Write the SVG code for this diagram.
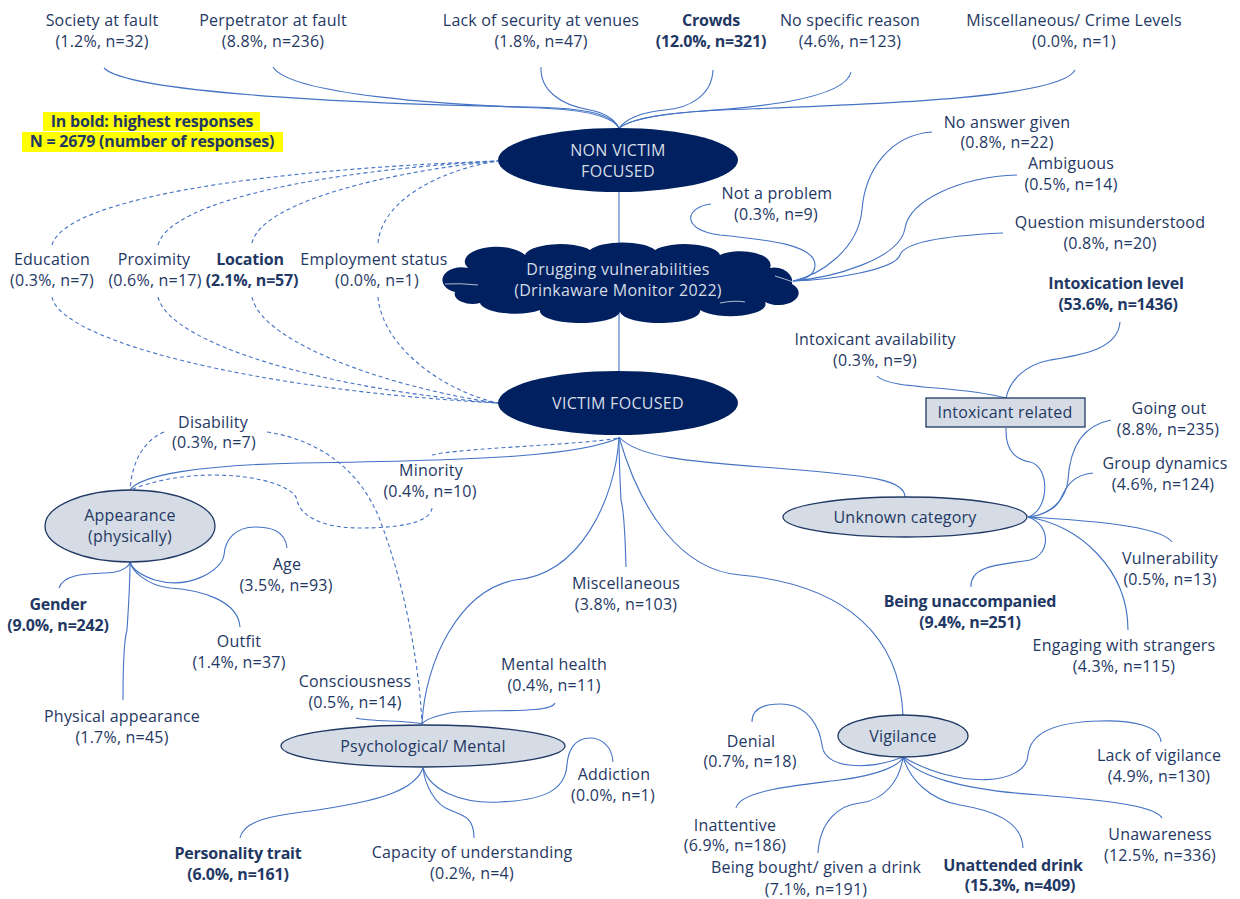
<svg xmlns="http://www.w3.org/2000/svg" width="1240" height="899" viewBox="0 0 1240 899">
<style>
.t{font-family:'Open Sans','Liberation Sans',sans-serif;font-size:16px;letter-spacing:0.2px;fill:#1f3864;text-anchor:middle}
.b{font-weight:bold;letter-spacing:-0.2px}
.w{font-family:'Open Sans','Liberation Sans',sans-serif;font-size:16px;letter-spacing:0.3px;fill:#d6dce5;text-anchor:middle}
.c{fill:none;stroke:#4472c4;stroke-width:1.1}
.d{fill:none;stroke:#4472c4;stroke-width:1.1;stroke-dasharray:4 3}
.dark{fill:#002060}
.light{fill:#d6dce5;stroke:#1f3864;stroke-width:1.3}
</style>
<rect width="1240" height="899" fill="#ffffff"/>

<g id="connectors">
<path class="c" d="M104,68 C130,95 400,105 530,107 C590,108 612,115 619,128"/>
<path class="c" d="M273,67 C290,95 450,105 540,108 C590,110 613,118 619,128"/>
<path class="c" d="M541,67 C540,90 560,105 590,110 C605,113 615,120 619,128"/>
<path class="c" d="M713,70 C712,95 690,108 665,110 C640,112 625,120 619,128"/>
<path class="c" d="M851,72 C845,100 750,108 690,112 C650,115 630,120 619,128"/>
<path class="c" d="M1075,70 C1060,100 850,105 720,110 C660,113 630,120 619,128"/>
<path class="c" d="M619,192 L619,252"/>
<path class="c" d="M619,313 L619,371"/>
<path class="d" d="M52,245 C65,200 250,170 498,161"/>
<path class="d" d="M158,245 C170,200 330,170 498,161"/>
<path class="d" d="M252,243 C262,200 400,170 498,161"/>
<path class="d" d="M378,243 C382,200 440,170 498,161"/>
<path class="d" d="M52,297 C60,340 250,390 498,403"/>
<path class="d" d="M158,297 C170,345 330,390 498,403"/>
<path class="d" d="M252,297 C262,345 400,390 498,403"/>
<path class="d" d="M378,297 C382,345 440,390 498,403"/>
<path class="c" d="M711,204 C685,207 680,230 720,235 C770,240 815,245 815,265 C815,275 805,280 793,281"/>
<path class="c" d="M932,132 C890,135 865,170 862,210 C858,250 820,275 793,281"/>
<path class="c" d="M1017,175 C960,177 910,200 905,228 C900,260 830,278 793,281"/>
<path class="c" d="M1003,233 C960,235 905,240 900,255 C895,270 830,280 793,281"/>
<path class="c" d="M1120,322 C1118,350 1080,355 1050,360 C1025,365 1010,380 1006,398"/>
<path class="c" d="M877,376 C890,390 960,385 1006,398"/>
<path class="c" d="M1006,428 C1005,455 1020,460 1030,462 C1050,466 1050,510 1028,517"/>
<path class="c" d="M1111,420 C1085,425 1070,445 1068,480 C1066,500 1050,515 1028,517"/>
<path class="c" d="M1093,473 C1070,475 1065,490 1060,500 C1055,510 1040,516 1028,517"/>
<path class="c" d="M1172,542 C1160,525 1080,520 1028,517"/>
<path class="c" d="M1128,630 C1128,570 1080,525 1028,517"/>
<path class="c" d="M971,587 C970,565 1000,565 1030,560 C1050,555 1052,525 1028,517"/>
<path class="c" d="M619,437 C640,460 700,462 800,470 C870,476 905,480 905,497"/>
<path class="c" d="M619,437 C640,510 680,570 740,575 C850,585 900,640 903,715"/>
<path class="c" d="M626,567 C625,530 624,510 621,500 C620,480 619,460 619,437"/>
<path class="c" d="M619,438 C615,500 580,575 515,580 C460,590 425,660 422,724"/>
<path class="c" d="M619,438 C580,455 500,460 300,463 C200,465 140,475 130,490"/>
<path class="d" d="M432,455 C460,448 580,445 619,438"/>
<path class="d" d="M432,508 C430,525 390,528 360,528 C320,528 300,515 297,500 C293,478 200,462 130,490"/>
<path class="d" d="M164,432 C145,440 132,460 130,490"/>
<path class="d" d="M267,432 C320,440 360,470 380,520 C410,600 420,680 422,724"/>
<path class="c" d="M59,588 C65,570 100,575 115,572 C125,570 130,565 130,562"/>
<path class="c" d="M287,548 C285,530 270,527 255,527 C235,527 225,540 224,555 C222,570 190,590 155,580 C140,575 132,568 130,562"/>
<path class="c" d="M240,627 C238,600 200,590 170,588 C145,585 132,570 130,562"/>
<path class="c" d="M123,700 C123,660 124,640 127,630 C129,600 130,580 130,562"/>
<path class="c" d="M356,718 C370,722 410,720 422,724"/>
<path class="c" d="M555,703 C550,715 480,708 450,713 C435,716 425,720 422,724"/>
<path class="c" d="M240,838 C245,815 290,815 330,808 C380,800 415,790 423,768"/>
<path class="c" d="M474,838 C474,815 460,815 450,810 C435,805 425,785 423,768"/>
<path class="c" d="M613,762 C612,745 600,738 590,738 C575,738 568,750 567,765 C565,790 545,800 500,802 C460,804 430,790 423,768"/>
<path class="c" d="M752,722 C752,708 765,704 780,704 C810,704 820,730 822,745 C825,770 870,770 903,757"/>
<path class="c" d="M736,808 C740,790 800,785 840,780 C880,775 900,765 903,757"/>
<path class="c" d="M818,853 C820,820 840,805 860,803 C885,800 900,780 903,757"/>
<path class="c" d="M1023,848 C1022,820 990,810 960,805 C930,800 910,780 903,757"/>
<path class="c" d="M1162,818 C1155,805 1100,800 1040,795 C960,790 915,775 903,757"/>
<path class="c" d="M1161,742 C1160,725 1130,720 1100,721 C1050,722 1030,735 1028,755 C1026,785 960,790 903,757"/>
</g>

<g id="legend">
<rect x="43" y="112" width="217" height="19" fill="#ffff00"/>
<rect x="22" y="132" width="261" height="20" fill="#ffff00"/>
<text class="t b" x="152" y="127">In bold: highest responses</text>
<text class="t b" x="152" y="147">N = 2679 (number of responses)</text>
</g>

<g id="non-victim-focused">
<ellipse class="dark" cx="618" cy="160" rx="120" ry="32"/>
<text class="w" x="618" y="156">NON VICTIM</text>
<text class="w" x="618" y="177">FOCUSED</text>
</g>

<g id="drugging-vulnerabilities">
<path class="dark" d="M455,292 A18,12 0 0 1 468,268 A30,14 0 0 1 525,255 A35,12 0 0 1 590,250 A35,12 0 0 1 655,250 A35,12 0 0 1 720,255 A30,14 0 0 1 770,268 A18,14 0 0 1 792,284 A20,12 0 0 1 765,302 A35,12 0 0 1 700,310 A40,12 0 0 1 620,312 A40,12 0 0 1 540,310 A35,12 0 0 1 480,303 A18,10 0 0 1 455,292 Z"/>
<path d="M445,284 Q460,283 478,285 M775,276 Q785,279 793,282 M720,303 Q735,300 745,302" fill="none" stroke="#ffffff" stroke-width="1" opacity="0.7"/>
<text class="w" x="618" y="275">Drugging vulnerabilities</text>
<text class="w" x="618" y="296">(Drinkaware Monitor 2022)</text>
</g>

<g id="victim-focused">
<ellipse class="dark" cx="618" cy="403" rx="120" ry="32"/>
<text class="w" x="618" y="409">VICTIM FOCUSED</text>
</g>

<g id="intoxicant-related">
<rect class="light" x="926" y="398" width="159" height="29"/>
<text class="t" x="1005" y="418">Intoxicant related</text>
</g>

<g id="unknown-category">
<ellipse class="light" cx="905" cy="517" rx="122" ry="20"/>
<text class="t" x="905" y="523">Unknown category</text>
</g>

<g id="appearance">
<ellipse class="light" cx="130" cy="526" rx="85" ry="36"/>
<text class="t" x="130" y="521">Appearance</text>
<text class="t" x="130" y="542">(physically)</text>
</g>

<g id="psychological">
<ellipse class="light" cx="423" cy="746" rx="142" ry="21"/>
<text class="t" x="423" y="752">Psychological/ Mental</text>
</g>

<g id="vigilance">
<ellipse class="light" cx="903" cy="736" rx="65" ry="21"/>
<text class="t" x="903" y="742">Vigilance</text>
</g>

<g id="labels-top">
<text class="t" x="102" y="26">Society at fault</text><text class="t" x="102" y="47">(1.2%, n=32)</text>
<text class="t" x="273" y="26">Perpetrator at fault</text><text class="t" x="273" y="47">(8.8%, n=236)</text>
<text class="t" x="541" y="26">Lack of security at venues</text><text class="t" x="541" y="47">(1.8%, n=47)</text>
<text class="t b" x="711" y="26">Crowds</text><text class="t b" x="711" y="47">(12.0%, n=321)</text>
<text class="t" x="850" y="26">No specific reason</text><text class="t" x="850" y="47">(4.6%, n=123)</text>
<text class="t" x="1074" y="26">Miscellaneous/ Crime Levels</text><text class="t" x="1074" y="47">(0.0%, n=1)</text>
</g>

<g id="labels-left">
<text class="t" x="52" y="265">Education</text><text class="t" x="52" y="286">(0.3%, n=7)</text>
<text class="t" x="154" y="265">Proximity</text><text class="t" x="155" y="286">(0.6%, n=17)</text>
<text class="t b" x="250" y="265">Location</text><text class="t b" x="252" y="286">(2.1%, n=57)</text>
<text class="t" x="374" y="265">Employment status</text><text class="t" x="377" y="286">(0.0%, n=1)</text>
</g>

<g id="labels-right">
<text class="t" x="777" y="199">Not a problem</text><text class="t" x="776" y="220">(0.3%, n=9)</text>
<text class="t" x="1007" y="128">No answer given</text><text class="t" x="1007" y="148">(0.8%, n=22)</text>
<text class="t" x="1071" y="169">Ambiguous</text><text class="t" x="1071" y="190">(0.5%, n=14)</text>
<text class="t" x="1110" y="228">Question misunderstood</text><text class="t" x="1110" y="249">(0.8%, n=20)</text>
<text class="t b" x="1116" y="289">Intoxication level</text><text class="t b" x="1118" y="310">(53.6%, n=1436)</text>
<text class="t" x="875" y="345">Intoxicant availability</text><text class="t" x="875" y="366">(0.3%, n=9)</text>
<text class="t" x="1169" y="414">Going out</text><text class="t" x="1168" y="435">(8.8%, n=235)</text>
<text class="t" x="1165" y="469">Group dynamics</text><text class="t" x="1163" y="490">(4.6%, n=124)</text>
<text class="t" x="1170" y="564">Vulnerability</text><text class="t" x="1170" y="585">(0.5%, n=13)</text>
<text class="t" x="1124" y="651">Engaging with strangers</text><text class="t" x="1124" y="672">(4.3%, n=115)</text>
<text class="t b" x="970" y="607">Being unaccompanied</text><text class="t b" x="970" y="628">(9.4%, n=251)</text>
</g>

<g id="labels-victim">
<text class="t" x="626" y="589">Miscellaneous</text><text class="t" x="626" y="610">(3.8%, n=103)</text>
<text class="t" x="431" y="476">Minority</text><text class="t" x="430" y="497">(0.4%, n=10)</text>
<text class="t" x="213" y="428">Disability</text><text class="t" x="214" y="448">(0.3%, n=7)</text>
<text class="t b" x="58" y="610">Gender</text><text class="t b" x="58" y="631">(9.0%, n=242)</text>
<text class="t" x="287" y="570">Age</text><text class="t" x="286" y="591">(3.5%, n=93)</text>
<text class="t" x="239" y="647">Outfit</text><text class="t" x="239" y="668">(1.4%, n=37)</text>
<text class="t" x="122" y="722">Physical appearance</text><text class="t" x="122" y="743">(1.7%, n=45)</text>
<text class="t" x="355" y="687">Consciousness</text><text class="t" x="355" y="708">(0.5%, n=14)</text>
<text class="t" x="554" y="670">Mental health</text><text class="t" x="554" y="691">(0.4%, n=11)</text>
<text class="t" x="614" y="780">Addiction</text><text class="t" x="613" y="801">(0.0%, n=1)</text>
<text class="t b" x="238" y="859">Personality trait</text><text class="t b" x="238" y="880">(6.0%, n=161)</text>
<text class="t" x="472" y="858">Capacity of understanding</text><text class="t" x="472" y="879">(0.2%, n=4)</text>
<text class="t" x="751" y="747">Denial</text><text class="t" x="750" y="767">(0.7%, n=18)</text>
<text class="t" x="735" y="831">Inattentive</text><text class="t" x="735" y="851">(6.9%, n=186)</text>
<text class="t" x="816" y="873">Being bought/ given a drink</text><text class="t" x="816" y="895">(7.1%, n=191)</text>
<text class="t b" x="1013" y="871">Unattended drink</text><text class="t b" x="1020" y="891">(15.3%, n=409)</text>
<text class="t" x="1160" y="840">Unawareness</text><text class="t" x="1160" y="861">(12.5%, n=336)</text>
<text class="t" x="1159" y="761">Lack of vigilance</text><text class="t" x="1159" y="782">(4.9%, n=130)</text>
</g>
</svg>
